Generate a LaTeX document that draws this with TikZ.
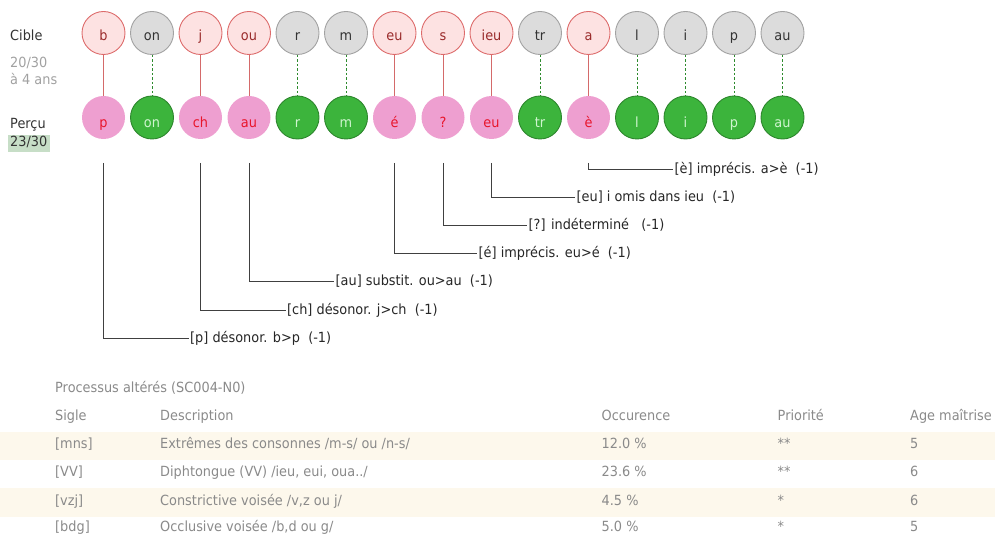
\documentclass[tikz,border=0pt]{standalone}
\usepackage{fontspec}
\setmainfont{DejaVu Sans}[FakeStretch=0.92]
\usepackage{tikz}

\definecolor{errfond}{HTML}{FDE2E2}
\definecolor{errtrait}{HTML}{DD6B6B}
\definecolor{errtexte}{HTML}{9A2B2B}
\definecolor{okfond}{HTML}{DCDCDC}
\definecolor{oktrait}{HTML}{A2A2A2}
\definecolor{rose}{HTML}{EE9FD0}
\definecolor{rosetexte}{HTML}{E8152B}
\definecolor{vert}{HTML}{3CB43C}
\definecolor{verttrait}{HTML}{2D862D}
\definecolor{verttexte}{HTML}{CFF5CF}
\definecolor{lien}{HTML}{D46A6A}
\definecolor{lienok}{HTML}{2E8B2E}
\definecolor{gristexte}{HTML}{8A8A8A}
\definecolor{bande}{HTML}{FDF8EC}
\definecolor{score}{HTML}{C7DEC7}

\tikzset{
  cible/.style={circle, minimum size=43pt, inner sep=0pt, line width=0.9pt,
    text height=16pt, text depth=0pt},
  cerr/.style={cible, draw=errtrait, fill=errfond, text=errtexte},
  cok/.style={cible, draw=oktrait, fill=okfond, text=black!80},
  percu/.style={circle, minimum size=43pt, inner sep=0pt, line width=0.9pt,
    text height=21pt, text depth=0pt},
  perr/.style={percu, fill=rose, text=rosetexte},
  pok/.style={percu, draw=verttrait, fill=vert, text=verttexte},
  lerr/.style={draw=lien, line width=1pt},
  lok/.style={draw=lienok, line width=0.8pt, dash pattern=on 2.5pt off 2pt},
  note/.style={anchor=west, inner sep=1.5pt, text=black!85},
  repere/.style={draw=black!75, line width=0.8pt},
  gauche/.style={anchor=base west, inner sep=0pt},
  tab/.style={anchor=base west, inner sep=0pt, text=gristexte}
}

\begin{document}
\begin{tikzpicture}[x=1pt, y=-1pt, every node/.style={font=\fontsize{14pt}{16pt}\selectfont}]

\useasboundingbox (0,0) rectangle (995,537);

%% left titles
\node[gauche, text=black!80] (tc) at (10,40.5) {Cible};
\node[gauche, text=gristexte!80] (tn) at (10,68) {20/30};
\node[gauche, text=gristexte!80] (ta) at (10,85) {à 4 ans};
\node[gauche, text=black!80] (tp) at (10,129) {Perçu};
\fill[score] (8,135) rectangle (49.5,152);
\node[gauche, text=black!80] (ts) at (10,147) {23/30};

%% cible
\node[cerr] (c1) at (103.5,33) {b};
\node[cok] (c2) at (152,33) {on};
\node[cerr] (c3) at (200.5,33) {j};
\node[cerr] (c4) at (249,33) {ou};
\node[cok] (c5) at (297.5,33) {r};
\node[cok] (c6) at (346,33) {m};
\node[cerr] (c7) at (394.5,33) {eu};
\node[cerr] (c8) at (443,33) {s};
\node[cerr] (c9) at (491.5,33) {ieu};
\node[cok] (c10) at (540,33) {tr};
\node[cerr] (c11) at (588.5,33) {a};
\node[cok] (c12) at (637,33) {l};
\node[cok] (c13) at (685.5,33) {i};
\node[cok] (c14) at (734,33) {p};
\node[cok] (c15) at (782.5,33) {au};

%% percu
\node[perr] (p1) at (103.5,117.5) {p};
\node[pok] (p2) at (152,117.5) {on};
\node[perr] (p3) at (200.5,117.5) {ch};
\node[perr] (p4) at (249,117.5) {au};
\node[pok] (p5) at (297.5,117.5) {r};
\node[pok] (p6) at (346,117.5) {m};
\node[perr] (p7) at (394.5,117.5) {é};
\node[perr] (p8) at (443,117.5) {?};
\node[perr] (p9) at (491.5,117.5) {eu};
\node[pok] (p10) at (540,117.5) {tr};
\node[perr] (p11) at (588.5,117.5) {è};
\node[pok] (p12) at (637,117.5) {l};
\node[pok] (p13) at (685.5,117.5) {i};
\node[pok] (p14) at (734,117.5) {p};
\node[pok] (p15) at (782.5,117.5) {au};

%% liens
\draw[lerr] (c1) -- (p1);     %% b-p
\draw[lok] (c2) -- (p2);      %% on
\draw[lerr] (c3) -- (p3);     %% j-ch
\draw[lerr] (c4) -- (p4);     %% ou-au
\draw[lok] (c5) -- (p5);      %% r
\draw[lok] (c6) -- (p6);      %% m
\draw[lerr] (c7) -- (p7);     %% eu-e
\draw[lerr] (c8) -- (p8);     %% s-?
\draw[lerr] (c9) -- (p9);     %% ieu-eu
\draw[lok] (c10) -- (p10);    %% tr
\draw[lerr] (c11) -- (p11);   %% a-e
\draw[lok] (c12) -- (p12);    %% l
\draw[lok] (c13) -- (p13);    %% i
\draw[lok] (c14) -- (p14);    %% p
\draw[lok] (c15) -- (p15);    %% au

%% erreurs
\coordinate (s1) at (103.5,163);
\coordinate (s3) at (200.5,163);
\coordinate (s4) at (249,163);
\coordinate (s7) at (394.5,163);
\coordinate (s8) at (443,163);
\coordinate (s9) at (491.5,163);
\coordinate (s11) at (588.5,163);
\node[note] (n1) at (188.5,338) {[p] désonor. b>p~ (-1)};
\node[note] (n3) at (285.5,310) {[ch] désonor. j>ch~ (-1)};
\node[note] (n4) at (334,281.5) {[au] substit. ou>au~ (-1)};
\node[note] (n7) at (477,253) {[é] imprécis. eu>é~ (-1)};
\node[note] (n8) at (527,225) {[?] indéterminé~~ (-1)};
\node[note] (n9) at (575,197) {[eu] i omis dans ieu~ (-1)};
\node[note] (n11) at (673,169) {[è] imprécis. a>è~ (-1)};
\draw[repere] (s1) |- (n1.west);
\draw[repere] (s3) |- (n3.west);
\draw[repere] (s4) |- (n4.west);
\draw[repere] (s7) |- (n7.west);
\draw[repere] (s8) |- (n8.west);
\draw[repere] (s9) |- (n9.west);
\draw[repere] (s11) |- (n11.west);

%% tableau
\fill[bande] (0,432.3) rectangle (995,460);
\fill[bande] (0,488.3) rectangle (995,516.7);
\node[tab] (titre) at (55,392.5) {Processus altérés (SC004-N0)};
\node[tab] (h1) at (55,420.5) {Sigle};
\node[tab] (h2) at (160,420.5) {Description};
\node[tab] (h3) at (601.5,420.5) {Occurence};
\node[tab] (h4) at (777.5,420.5) {Priorité};
\node[tab] (h5) at (910,420.5) {Age maîtrise};
\node[tab] (a1) at (55,448.3) {[mns]};
\node[tab] (a2) at (160,448.3) {Extrêmes des consonnes /m-s/ ou /n-s/};
\node[tab] (a3) at (601.5,448.3) {12.0 \%};
\node[tab] (a4) at (777.5,448.3) {**};
\node[tab] (a5) at (910,448.3) {5};
\node[tab] (b1) at (55,476.7) {[VV]};
\node[tab] (b2) at (160,476.7) {Diphtongue (VV) /ieu, eui, oua../};
\node[tab] (b3) at (601.5,476.7) {23.6 \%};
\node[tab] (b4) at (777.5,476.7) {**};
\node[tab] (b5) at (910,476.7) {6};
\node[tab] (d1) at (55,505) {[vzj]};
\node[tab] (d2) at (160,505) {Constrictive voisée /v,z ou j/};
\node[tab] (d3) at (601.5,505) {4.5 \%};
\node[tab] (d4) at (777.5,505) {*};
\node[tab] (d5) at (910,505) {6};
\node[tab] (e1) at (55,531.7) {[bdg]};
\node[tab] (e2) at (160,531.7) {Occlusive voisée /b,d ou g/};
\node[tab] (e3) at (601.5,531.7) {5.0 \%};
\node[tab] (e4) at (777.5,531.7) {*};
\node[tab] (e5) at (910,531.7) {5};
\end{tikzpicture}
\end{document}
